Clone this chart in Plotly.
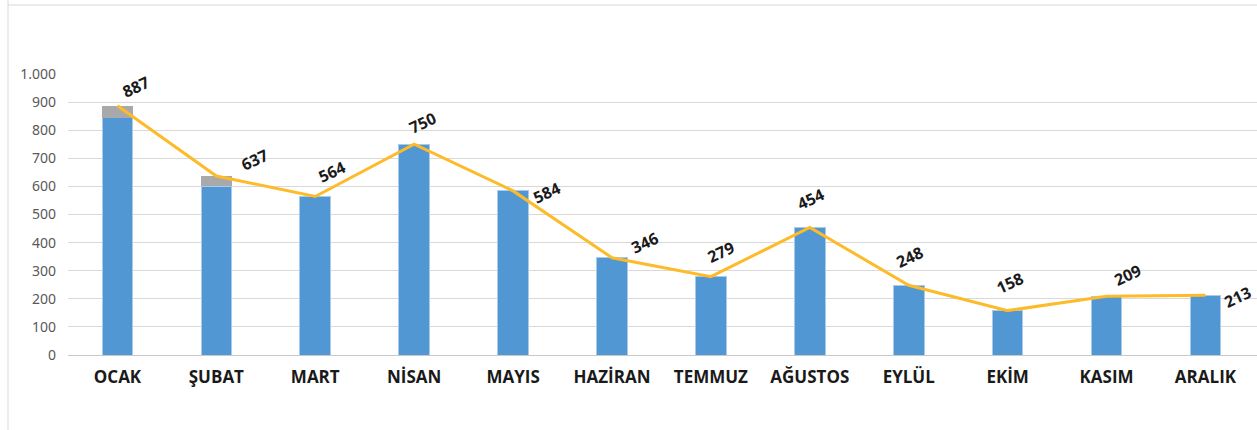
import plotly.graph_objects as go

months = ["OCAK", "ŞUBAT", "MART", "NİSAN", "MAYIS", "HAZİRAN", "TEMMUZ",
          "AĞUSTOS", "EYLÜL", "EKİM", "KASIM", "ARALIK"]
blue_values = [845, 600, 564, 750, 584, 346, 279, 454, 248, 158, 209, 213]
gray_values = [42, 37, 0, 0, 0, 0, 0, 0, 0, 0, 0, 0]
totals = [887, 637, 564, 750, 584, 346, 279, 454, 248, 158, 209, 213]

# label offsets in pixels (dx right, dy up) - styling only
label_dx = [18, 38, 16, 8, 33, 32, 10, 1, 1, 2, 21, 32]
label_dy = [19, 16, 25, 21, -2, 15, 25, 28, 28, 28, 21, -2]

fig = go.Figure()
fig.add_trace(go.Bar(x=months, y=blue_values, marker=dict(color="#5097D3", line=dict(color="#A9CBEA", width=1)),
                     hoverinfo="skip"))
fig.add_trace(go.Bar(x=months, y=gray_values, marker=dict(color="#A9A9AB", line=dict(width=0)),
                     hoverinfo="skip"))
fig.add_trace(go.Scatter(x=months, y=totals, mode="lines",
                         line=dict(color="#FDBB2A", width=3), hoverinfo="skip"))

annotations = []
for m, t, dx, dy in zip(months, totals, label_dx, label_dy):
    annotations.append(dict(x=m, y=t, xref="x", yref="y", text=str(t), showarrow=False,
                            textangle=-25, xshift=dx, yshift=dy,
                            font=dict(family="Open Sans", size=16, color="#1a1a1a", weight="bold")))

shapes = [
    dict(type="line", xref="paper", yref="paper", x0=(8 - 68) / 1189, x1=(8 - 68) / 1189,
         y0=(355 - 0) / 281, y1=(355 - 430) / 281, line=dict(color="#D9D9D9", width=1)),
    dict(type="line", xref="paper", yref="paper", x0=(8 - 68) / 1189, x1=1.0,
         y0=(355 - 5) / 281, y1=(355 - 5) / 281, line=dict(color="#D9D9D9", width=1)),
]

fig.update_layout(
    width=1257, height=430,
    margin=dict(l=68, r=0, t=74, b=75),
    barmode="stack", bargap=0.69,
    showlegend=False,
    plot_bgcolor="white", paper_bgcolor="white",
    separators=",.",
    annotations=annotations,
    shapes=shapes,
    xaxis=dict(showgrid=False, showline=False, ticks="", ticklabelstandoff=10,
               tickfont=dict(family="Open Sans", size=17, color="#1a1a1a", weight="bold")),
    yaxis=dict(range=[0, 1000], dtick=100, tickformat=",d", showgrid=True, gridcolor="#D9D9D9",
               gridwidth=1, zeroline=True, zerolinecolor="#C8C8C8", zerolinewidth=1,
               showline=False, ticks="", ticklabelstandoff=11,
               tickfont=dict(family="Noto Sans", size=14, color="#595959")),
)

fig.write_html("out.html", config={"displayModeBar": False},
               post_script="document.body.style.margin='0';document.body.style.overflow='hidden';")
